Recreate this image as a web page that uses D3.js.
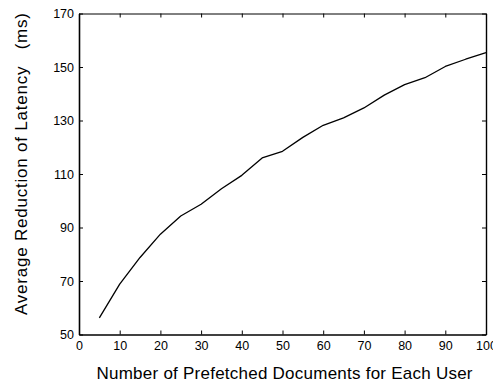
<!DOCTYPE html>
<html>
<head>
<meta charset="utf-8">
<script src="https://cdn.jsdelivr.net/npm/d3@7"></script>
<style>
  html, body { margin: 0; padding: 0; background: #fff; }
  svg { display: block; }
  text { font-family: Arial, "Liberation Sans", sans-serif; fill: #000; }
</style>
</head>
<body>
<svg id="chart" width="493" height="383"></svg>
<script>
const docsPrefetched = [5, 10, 15, 20, 25, 30, 35, 40, 45, 50, 55, 60, 65, 70, 75, 80, 85, 90, 95, 100];
const latencyReduction = [56.2, 68.8, 78.8, 87.5, 94.3, 98.7, 104.5, 109.5, 116, 118.5, 123.7, 128.2, 131, 134.7, 139.5, 143.4, 146, 150.2, 152.9, 155.4];
const xTicks = [0, 10, 20, 30, 40, 50, 60, 70, 80, 90, 100];
const yTicks = [50, 70, 90, 110, 130, 150, 170];
const xLabel = "Number of Prefetched Documents for Each User";
const yLabel = "Average Reduction of Latency\u00a0\u00a0\u00a0(ms)";

const svg = d3.select("#chart");
const L = 79, R = 486, T = 13.5, B = 334.5;

const x = d3.scaleLinear().domain([0, 100]).range([L, R]);
const y = d3.scaleLinear().domain([50, 170]).range([B, T]);

const fs = 12.5;

const gB = svg.append("g").attr("transform", `translate(0,${B})`)
  .call(d3.axisBottom(x).tickValues(xTicks).tickSizeInner(-4).tickSizeOuter(0).tickPadding(7));
const gT = svg.append("g").attr("transform", `translate(0,${T})`)
  .call(d3.axisTop(x).tickValues(xTicks).tickSizeInner(-4).tickSizeOuter(0).tickFormat(""));
const gL = svg.append("g").attr("transform", `translate(${L},0)`)
  .call(d3.axisLeft(y).tickValues(yTicks).tickSizeInner(-4).tickSizeOuter(0).tickPadding(5));
const gR = svg.append("g").attr("transform", `translate(${R},0)`)
  .call(d3.axisRight(y).tickValues(yTicks).tickSizeInner(-4).tickSizeOuter(0).tickFormat(""));

svg.selectAll(".domain, .tick line").attr("stroke", "#000").attr("stroke-width", 1);
gL.select(".domain").attr("stroke-width", 1.6);
gB.select(".domain").attr("stroke-width", 1.6);
gR.select(".domain").attr("stroke-width", 1.4);
svg.selectAll(".tick text").attr("font-size", fs).attr("font-family", "Arial, 'Liberation Sans', sans-serif").attr("fill", "#000");

const line = d3.line().x((d, i) => x(docsPrefetched[i])).y(d => y(d));
svg.append("path")
  .datum(latencyReduction)
  .attr("d", line)
  .attr("fill", "none")
  .attr("stroke", "#000")
  .attr("stroke-width", 1.3)
  .attr("stroke-linejoin", "round");

svg.append("text")
  .attr("x", 96.5)
  .attr("y", 378.5)
  .attr("font-size", 17)
  .attr("textLength", 376)
  .attr("lengthAdjust", "spacing")
  .text(xLabel);

svg.append("text")
  .attr("transform", `translate(27,315) rotate(-90)`)
  .attr("font-size", 17)
  .attr("textLength", 302)
  .attr("lengthAdjust", "spacing")
  .text(yLabel);
</script>
</body>
</html>
